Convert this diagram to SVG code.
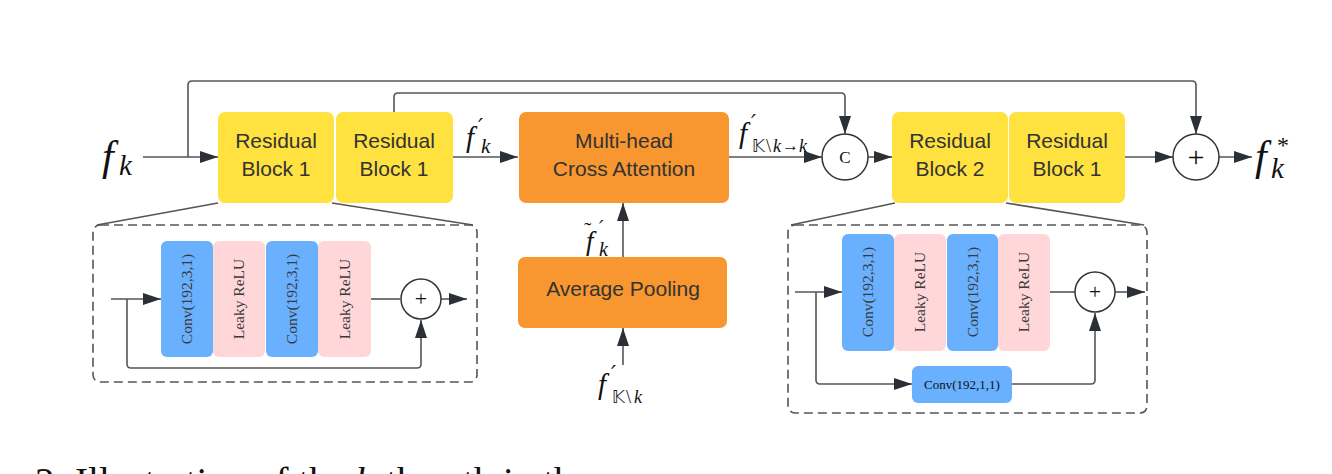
<svg xmlns="http://www.w3.org/2000/svg" width="1332" height="474" viewBox="0 0 1332 474">
<defs>
<marker id="ah" viewBox="0 0 18 12" refX="18" refY="6" markerWidth="18" markerHeight="12" markerUnits="userSpaceOnUse" orient="auto">
<path d="M0,0 L18,6 L0,12 z" fill="#2b2f36"/>
</marker>
<style>
.bg{fill:#ffffff}
.yel{fill:#ffe13f}
.org{fill:#f8962f}
.blu{fill:#69b0ff}
.pnk{fill:#ffd7d9}
.lbl{font-family:"Liberation Sans",Roboto,sans-serif;font-size:21px;fill:#333;text-anchor:middle}
.rot{font-family:"Liberation Serif",serif;font-size:15.5px;fill:#3a3a3a;text-anchor:middle}
.ln{fill:none;stroke:#555;stroke-width:1.6}
.arr{fill:none;stroke:#555;stroke-width:1.6;marker-end:url(#ah)}
.dash{fill:none;stroke:#555;stroke-width:1.6;stroke-dasharray:9 5}
.circ{fill:#fff;stroke:#333;stroke-width:1.5}
.mi{font-family:"Liberation Serif",serif;font-style:italic;fill:#111}
.mr{font-family:"Liberation Serif",serif;fill:#111}
.pr{font-family:"DejaVu Serif",serif;font-style:italic;fill:#111}
.bb{font-family:"DejaVu Sans","DejaVu Serif",sans-serif;fill:#111}
</style>
</defs>
<rect class="bg" x="0" y="0" width="1332" height="474"/>

<g id="connectors">
<path class="arr" d="M188,157 V85 Q188,81 192,81 H1192 Q1196,81 1196,85 V134"/>
<path class="arr" d="M394,112 V97 Q394,93 398,93 H841 Q845,93 845,97 V134"/>
<path class="arr" d="M143,157 H218"/>
<path class="arr" d="M453,157 H518"/>
<path class="arr" d="M729,157 H822"/>
<path class="arr" d="M868,157 H892"/>
<path class="arr" d="M1125,157 H1173"/>
<path class="arr" d="M1219,157 H1252"/>
<path class="arr" d="M623,257 V203"/>
<path class="arr" d="M623,365 V328"/>
<path class="ln" d="M218,203 L97,225"/>
<path class="ln" d="M332,203 L473,225"/>
<path class="ln" d="M895,203 L791,225"/>
<path class="ln" d="M1006,203 L1144,225"/>
<path class="arr" d="M111,299 H161"/>
<path class="arr" d="M127,299 V364 Q127,368 131,368 H417 Q421,368 421,364 V320"/>
<path class="ln" d="M371,299 H400"/>
<path class="arr" d="M441,299 H467"/>
<path class="arr" d="M795,292 H842"/>
<path class="arr" d="M816,292 V380 Q816,384 820,384 H912"/>
<path class="arr" d="M1012,384 H1091 Q1095,384 1095,380 V313"/>
<path class="ln" d="M1050,292 H1075"/>
<path class="arr" d="M1115,292 H1145"/>
</g>

<g id="rb1a"><rect class="yel" x="218" y="112" width="116" height="91" rx="7"/>
<text class="lbl" x="276" y="148">Residual</text><text class="lbl" x="276" y="176">Block 1</text></g>
<g id="rb1b"><rect class="yel" x="336" y="112" width="117" height="91" rx="7"/>
<text class="lbl" x="394" y="148">Residual</text><text class="lbl" x="394" y="176">Block 1</text></g>
<g id="mhca"><rect class="org" x="519" y="112" width="210" height="91" rx="7"/>
<text class="lbl" x="624" y="148">Multi-head</text><text class="lbl" x="624" y="176">Cross Attention</text></g>
<g id="avgpool"><rect class="org" x="518" y="257" width="209" height="71" rx="7"/>
<text class="lbl" x="623" y="296">Average Pooling</text></g>
<g id="concat"><circle class="circ" cx="845" cy="157" r="23"/>
<text class="mr" x="845" y="163" font-size="17" text-anchor="middle" fill="#333">C</text></g>
<g id="rb2"><rect class="yel" x="892" y="112" width="116" height="91" rx="7"/>
<text class="lbl" x="950" y="148">Residual</text><text class="lbl" x="950" y="176">Block 2</text></g>
<g id="rb1c"><rect class="yel" x="1009" y="112" width="116" height="91" rx="7"/>
<text class="lbl" x="1067" y="148">Residual</text><text class="lbl" x="1067" y="176">Block 1</text></g>
<g id="add"><circle class="circ" cx="1196" cy="157" r="23"/>
<text class="mr" x="1196" y="167" font-size="30" text-anchor="middle" fill="#333">+</text></g>

<g id="resblock1-detail">
<rect class="dash" x="93" y="225" width="384" height="157" rx="7"/>
<rect class="blu" x="161" y="241" width="52" height="116" rx="6"/>
<rect class="pnk" x="213" y="241" width="52" height="116" rx="6"/>
<rect class="blu" x="266" y="241" width="52" height="116" rx="6"/>
<rect class="pnk" x="318" y="241" width="53" height="116" rx="6"/>
<text class="rot" transform="translate(192,299) rotate(-90)">Conv(192,3,1)</text>
<text class="rot" transform="translate(244,299) rotate(-90)">Leaky ReLU</text>
<text class="rot" transform="translate(297,299) rotate(-90)">Conv(192,3,1)</text>
<text class="rot" transform="translate(350,299) rotate(-90)">Leaky ReLU</text>
<circle class="circ" cx="421" cy="299" r="20"/>
<text class="mr" x="421" y="306" font-size="22" text-anchor="middle" fill="#333">+</text>
</g>

<g id="resblock2-detail">
<rect class="dash" x="788" y="225" width="359" height="188" rx="7"/>
<rect class="blu" x="842" y="234" width="52" height="117" rx="6"/>
<rect class="pnk" x="894" y="234" width="52" height="117" rx="6"/>
<rect class="blu" x="947" y="234" width="51" height="117" rx="6"/>
<rect class="pnk" x="998" y="234" width="52" height="117" rx="6"/>
<text class="rot" transform="translate(873,292) rotate(-90)">Conv(192,3,1)</text>
<text class="rot" transform="translate(925,292) rotate(-90)">Leaky ReLU</text>
<text class="rot" transform="translate(978,292) rotate(-90)">Conv(192,3,1)</text>
<text class="rot" transform="translate(1029,292) rotate(-90)">Leaky ReLU</text>
<rect class="blu" x="912" y="366" width="100" height="37" rx="6"/>
<text class="mr" x="962" y="389" font-size="13" text-anchor="middle" fill="#3a3a3a">Conv(192,1,1)</text>
<circle class="circ" cx="1095" cy="292" r="20"/>
<text class="mr" x="1095" y="299" font-size="22" text-anchor="middle" fill="#333">+</text>
</g>

<g id="labels">
<text class="mi" x="102" y="170" font-size="42">f</text>
<text class="mi" x="119" y="175" font-size="29">k</text>

<text class="mi" x="466" y="147" font-size="29">f</text>
<text class="pr" x="478" y="134" font-size="22">′</text>
<text class="mi" x="481" y="153" font-size="21">k</text>

<text class="mi" x="739" y="143" font-size="29">f</text>
<text class="pr" x="751" y="130" font-size="22">′</text>
<text class="bb" x="752" y="152" font-size="17">𝕂</text>
<text class="mr" x="766" y="152" font-size="18">\</text>
<text class="mi" x="773" y="152" font-size="18">k</text>
<text class="mr" x="782" y="151" font-size="17">→</text>
<text class="mi" x="799" y="152" font-size="18">k</text>

<text class="mi" x="1255" y="170" font-size="42">f</text>
<text class="mr" x="1277" y="153" font-size="24">*</text>
<text class="mi" x="1271" y="178" font-size="29">k</text>

<text class="mi" x="586" y="250" font-size="27">f</text>
<text class="mr" x="584" y="237" font-size="22">˜</text>
<text class="pr" x="599" y="235" font-size="20">′</text>
<text class="mi" x="599" y="256" font-size="20">k</text>

<text class="mi" x="598" y="394" font-size="29">f</text>
<text class="pr" x="611" y="381" font-size="22">′</text>
<text class="bb" x="612" y="403" font-size="17">𝕂</text>
<text class="mr" x="626" y="403" font-size="18">\</text>
<text class="mi" x="634" y="403" font-size="18">k</text>
</g>

<text class="mr" x="35" y="495" font-size="39" fill="#000">2: Illustration of the <tspan font-style="italic">k</tspan>-th path in the</text>
</svg>
